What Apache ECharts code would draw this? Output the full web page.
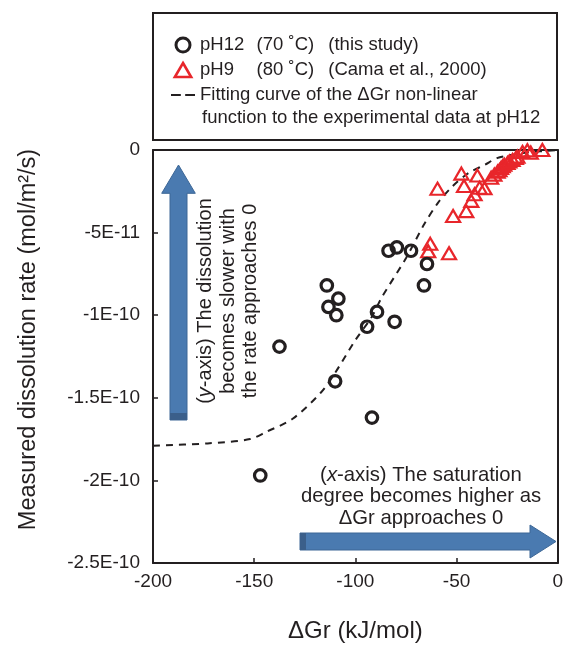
<!DOCTYPE html>
<html>
<head>
<meta charset="utf-8">
<style>
  html, body { margin: 0; padding: 0; background: #fff; }
  #chart { width: 566px; height: 648px; }
</style>
<script src="https://cdn.jsdelivr.net/npm/echarts@6/dist/echarts.min.js"></script>
</head>
<body>
<div id="chart"></div>
<script>
// pH12 (70 ˚C) this study
var pH12Gr   = [-147, -137.5, -114.1, -108.4, -113.3, -109.4, -110, -91.8, -94.2, -89.3, -80.6, -83.6, -79.5, -72.5, -64.6, -66.1];
var pH12Rate = [-1.97e-10, -1.19e-10, -0.82e-10, -0.90e-10, -0.95e-10, -1.00e-10, -1.40e-10, -1.62e-10, -1.07e-10, -0.98e-10, -1.04e-10, -0.61e-10, -0.59e-10, -0.61e-10, -0.69e-10, -0.82e-10];

// pH9 (80 ˚C) Cama et al., 2000
var pH9Gr   = [-59.4, -47.6, -39.7, -46.3, -51.7, -45.2, -42.7, -41.1, -36.2, -38.6, -32.9, -29.7, -28.0, -26.4, -24.8, -22.3, -19.9, -17.4, -13.3, -7.6, -63, -64, -53.7, -27.2, -23.9, -20.7, -31.3, -28.8, -15];
var pH9Rate = [-0.234e-10, -0.143e-10, -0.155e-10, -0.218e-10, -0.40e-10, -0.37e-10, -0.308e-10, -0.268e-10, -0.232e-10, -0.228e-10, -0.168e-10, -0.131e-10, -0.109e-10, -0.089e-10, -0.079e-10, -0.060e-10, -0.040e-10, -0.012e-10, -0.016e-10, 0, -0.568e-10, -0.613e-10, -0.625e-10, -0.099e-10, -0.070e-10, -0.049e-10, -0.149e-10, -0.123e-10, -0.002e-10];

// fitting curve
var fitGr   = [-200, -173, -152, -144, -131, -117, -110, -100, -92, -87, -75, -66, -59, -52, -44, -36, -30, -23, -15, 0];
var fitRate = [-1.79e-10, -1.776e-10, -1.75e-10, -1.706e-10, -1.627e-10, -1.468e-10, -1.349e-10, -1.151e-10, -1.012e-10, -0.893e-10, -0.655e-10, -0.45e-10, -0.317e-10, -0.22e-10, -0.139e-10, -0.089e-10, -0.049e-10, -0.03e-10, -0.015e-10, 0];

var yTickLabels = ['-2.5E-10', '-2E-10', '-1.5E-10', '-1E-10', '-5E-11', '0'];

var legendText = {
    pH12: '{a|pH12}{b|(70 ˚C)}{c|(this study)}',
    pH9: '{a|pH9}{b|(80 ˚C)}{c|(Cama et al., 2000)}',
    fit: 'Fitting curve of the ΔGr non-linear'
};

function pairs(xs, ys){
    var out = [];
    for (var i = 0; i < xs.length; i++) out.push([xs[i], ys[i]]);
    return out;
}

var FONT = 'Liberation Sans, Arial, Helvetica, sans-serif';
var INK = '#231f20';
var RED = '#e8262b';
var BLUE = '#4a7ab0';

var chart = echarts.init(document.getElementById('chart'));

var option = {
    animation: false,
    textStyle: { fontFamily: FONT, color: INK },
    grid: { left: 153, right: 7, top: 150, bottom: 79 },
    legend: {
        data: [
            { name: 'pH12', icon: 'circle', itemStyle: { color: 'rgba(0,0,0,0)', borderColor: INK, borderWidth: 3 } },
            { name: 'pH9', icon: 'path://M7,0L14,12L0,12Z', itemStyle: { color: 'rgba(0,0,0,0)', borderColor: RED, borderWidth: 2.6 } },
            { name: 'fit', icon: 'path://M0,0H9V2H0Z M13,0H22V2H13Z', itemStyle: { color: INK, borderWidth: 0 } }
        ],
        orient: 'vertical',
        left: 166,
        top: 27.5,
        itemWidth: 24,
        itemHeight: 14,
        itemGap: 0,
        selectedMode: false,
        formatter: function(name){ return legendText[name]; },
        textStyle: {
            fontFamily: FONT,
            fontSize: 18.5,
            color: INK,
            lineHeight: 25,
            rich: {
                a: { fontFamily: FONT, fontSize: 18.5, color: INK, width: 56.6 },
                b: { fontFamily: FONT, fontSize: 18.5, color: INK, width: 71.7 },
                c: { fontFamily: FONT, fontSize: 18.5, color: INK }
            }
        }
    },
    xAxis: [
        {
            type: 'value',
            min: -200,
            max: 0,
            interval: 50,
            name: 'ΔGr (kJ/mol)',
            nameLocation: 'middle',
            nameGap: 56,
            nameTextStyle: { fontFamily: FONT, fontSize: 24, color: INK },
            axisLine: { onZero: false, lineStyle: { color: INK, width: 2 } },
            axisTick: { inside: true, length: 5, lineStyle: { color: INK, width: 1.5 } },
            axisLabel: { fontFamily: FONT, fontSize: 19, color: INK, margin: 9 },
            splitLine: { show: false }
        },
        {
            type: 'value',
            position: 'top',
            min: -200,
            max: 0,
            axisLine: { onZero: false, lineStyle: { color: INK, width: 2 } },
            axisTick: { show: false },
            axisLabel: { show: false },
            splitLine: { show: false }
        }
    ],
    yAxis: [
        {
            type: 'value',
            min: -2.5e-10,
            max: 0,
            interval: 5e-11,
            name: 'Measured dissolution rate (mol/m²/s)',
            nameLocation: 'middle',
            nameGap: 112,
            nameTextStyle: { fontFamily: FONT, fontSize: 23.5, color: INK, padding: [0, 0, 0, 34] },
            axisLine: { onZero: false, lineStyle: { color: INK, width: 2 } },
            axisTick: { inside: true, length: 5, lineStyle: { color: INK, width: 1.5 } },
            axisLabel: {
                fontFamily: FONT, fontSize: 19, color: INK, margin: 13,
                formatter: function(v, i){ return yTickLabels[i]; }
            },
            splitLine: { show: false }
        },
        {
            type: 'value',
            position: 'right',
            min: -2.5e-10,
            max: 0,
            axisLine: { show: true, onZero: false, lineStyle: { color: INK, width: 2 } },
            axisTick: { show: false },
            axisLabel: { show: false },
            splitLine: { show: false }
        }
    ],
    series: [
        {
            name: 'fit',
            type: 'line',
            data: pairs(fitGr, fitRate),
            symbol: 'none',
            smooth: 0.3,
            lineStyle: { color: INK, width: 2, type: [7, 6] },
            itemStyle: { color: INK },
            z: 2
        },
        {
            name: 'pH9',
            type: 'scatter',
            data: pairs(pH9Gr, pH9Rate),
            symbol: 'triangle',
            symbolSize: [14, 12],
            clip: false,
            itemStyle: { color: 'rgba(0,0,0,0)', borderColor: RED, borderWidth: 2.2, opacity: 1 },
            z: 3
        },
        {
            name: 'pH12',
            type: 'scatter',
            data: pairs(pH12Gr, pH12Rate),
            symbol: 'circle',
            symbolSize: 11.5,
            clip: false,
            itemStyle: { color: 'rgba(0,0,0,0)', borderColor: INK, borderWidth: 3.2, opacity: 1 },
            z: 4
        }
    ],
    graphic: [
        // legend frame
        {
            type: 'rect',
            shape: { x: 153, y: 13, width: 404, height: 127 },
            style: { fill: 'none', stroke: INK, lineWidth: 2 }
        },
        // second line of the fitting-curve legend entry
        {
            type: 'text',
            x: 202, y: 118,
            style: {
                text: 'function to the experimental data at pH12',
                font: '18.5px ' + FONT,
                fill: INK,
                verticalAlign: 'middle'
            }
        },
        // vertical arrow
        {
            type: 'polygon',
            shape: { points: [[170, 420], [170, 193.3], [161.7, 193.3], [178.5, 165], [195.3, 193.3], [187, 193.3], [187, 420]] },
            style: { fill: BLUE, stroke: '#3d6796', lineWidth: 1 }
        },
        {
            type: 'rect',
            shape: { x: 170, y: 413, width: 17, height: 7 },
            style: { fill: '#3b5f8a' }
        },
        // horizontal arrow
        {
            type: 'polygon',
            shape: { points: [[300, 533], [530, 533], [530, 525], [556, 541.5], [530, 558], [530, 550], [300, 550]] },
            style: { fill: BLUE, stroke: '#3d6796', lineWidth: 1 }
        },
        {
            type: 'rect',
            shape: { x: 300, y: 533, width: 6, height: 17 },
            style: { fill: '#3b5f8a' }
        },
        // y-axis note
        {
            type: 'text',
            x: 228, y: 301,
            rotation: Math.PI / 2,
            style: {
                text: '({i|y}-axis) The dissolution\nbecomes slower with\nthe rate approaches 0',
                font: '20px ' + FONT,
                fill: INK,
                align: 'center',
                verticalAlign: 'middle',
                lineHeight: 22.5,
                rich: {
                    i: { fontStyle: 'italic', fontSize: 20, fontFamily: FONT, fill: INK, lineHeight: 22.5 }
                }
            }
        },
        // x-axis note
        {
            type: 'text',
            x: 421, y: 496.5,
            style: {
                text: '({i|x}-axis) The saturation\ndegree becomes higher as\nΔGr approaches 0',
                font: '20.3px ' + FONT,
                fill: INK,
                align: 'center',
                verticalAlign: 'middle',
                lineHeight: 21.5,
                rich: {
                    i: { fontStyle: 'italic', fontSize: 20.3, fontFamily: FONT, fill: INK, lineHeight: 21.5 }
                }
            }
        }
    ]
};

chart.setOption(option);
window.addEventListener('resize', function(){
    chart.resize();
});
</script>
</body>
</html>
